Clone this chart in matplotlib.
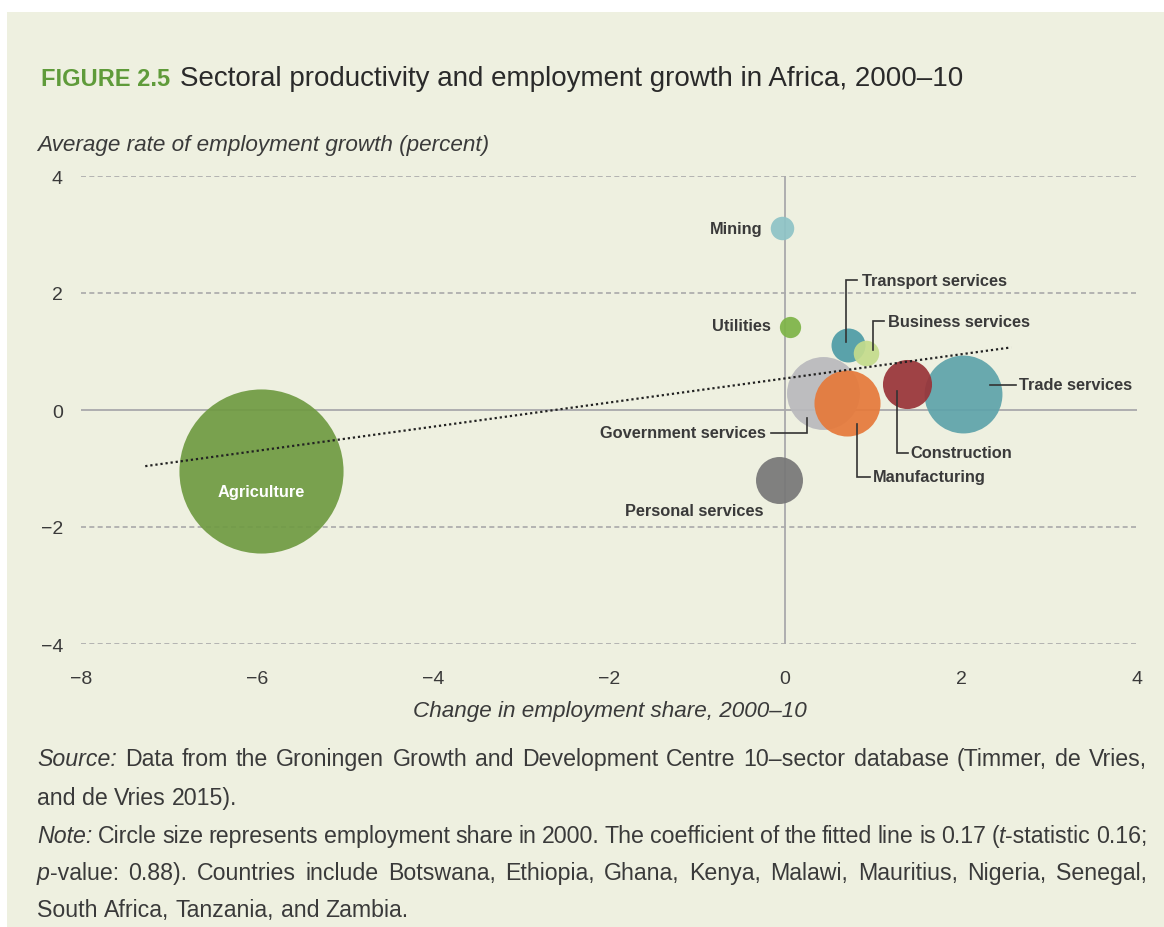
import matplotlib.pyplot as plt
from matplotlib.patches import Rectangle

plt.rcParams['font.family'] = ['Liberation Sans', 'DejaVu Sans']

# data
sectors = ['Agriculture', 'Mining', 'Utilities', 'Personal services', 'Government services',
           'Transport services', 'Business services', 'Trade services', 'Construction',
           'Manufacturing']
share_change = [-5.95, -0.03, 0.06, -0.07, 0.43, 0.72, 0.92, 2.02, 1.39, 0.70]
emp_growth = [-1.04, 3.11, 1.42, -1.20, 0.29, 1.11, 0.98, 0.27, 0.45, 0.12]
emp_share_2000 = [53.7, 1.1, 0.9, 4.4, 10.6, 2.3, 1.3, 12.1, 4.8, 8.7]
colors = ['#6f9a42', '#8ec3c6', '#7db447', '#777777', '#b9b9bd',
          '#4d9ca6', '#c4dc8c', '#5ea3aa', '#993338', '#e6793a']
fit_x = [-7.27, 2.57]
fit_y = [-0.96, 1.07]
xticks = [-8, -6, -4, -2, 0, 2, 4]
yticks = [-4, -2, 0, 2, 4]

# label placement: (x, y, ha) and leader line path
labels = {
    'Mining': (-0.26, 3.11, 'right', None),
    'Utilities': (-0.16, 1.44, 'right', None),
    'Personal services': (-0.24, -1.71, 'right', None),
    'Government services': (-0.22, -0.39, 'right', [(0.25, -0.14), (0.25, -0.39), (-0.16, -0.39)]),
    'Transport services': (0.875, 2.22, 'left', [(0.69, 1.16), (0.69, 2.22), (0.82, 2.22)]),
    'Business services': (1.17, 1.52, 'left', [(0.995, 1.02), (0.995, 1.52), (1.13, 1.52)]),
    'Trade services': (2.66, 0.43, 'left', [(2.33, 0.43), (2.62, 0.43)]),
    'Construction': (1.43, -0.735, 'left', [(1.27, 0.33), (1.27, -0.735), (1.40, -0.735)]),
    'Manufacturing': (1.0, -1.145, 'left', [(0.82, -0.24), (0.82, -1.145), (0.97, -1.145)]),
}

W, H = 1164, 928
fig = plt.figure(figsize=(W / 100, H / 100), dpi=100, facecolor='white')
fig.patches.append(Rectangle((7 / W, 0), 1, 1 - 13 / H, transform=fig.transFigure,
                             facecolor='#eef0e0', edgecolor='none', zorder=-10))

ax = fig.add_axes([81 / W, 1 - 645 / H, 1056 / W, 468 / H])
ax.set_zorder(1)
ax.set_facecolor('none')
ax.set_xlim(-8, 4)
ax.set_ylim(-4, 4)
for s in ax.spines.values():
    s.set_visible(False)

for y in yticks:
    if y != 0:
        ax.axhline(y, color='#a9a9a9', lw=1.2, ls=(0, (3, 2)), zorder=1)
ax.axhline(0, color='#a9a9ab', lw=1.3, zorder=1)
ax.axvline(0, color='#a9a9ab', lw=1.3, zorder=1)

ax.set_xticks(xticks)
ax.set_yticks(yticks)
ax.set_xticklabels([str(v).replace('-', '\u2212') for v in xticks])
ax.set_yticklabels([str(v).replace('-', '\u2212') for v in yticks])
ax.tick_params(axis='both', length=0, labelsize=14, labelcolor='#3a3a3a')
ax.tick_params(axis='x', pad=19)
ax.tick_params(axis='y', pad=13)

sizes = [v * 260 for v in emp_share_2000]
for i in range(len(sectors)):
    ax.scatter(share_change[i], emp_growth[i], s=sizes[i], color=colors[i],
               alpha=0.92, linewidths=0, zorder=3, clip_on=False)

ax.plot(fit_x, fit_y, color='#222222', lw=1.6, ls=(0, (1, 1.3)), zorder=5)

for name, (lx, ly, ha, path) in labels.items():
    ax.text(lx, ly, name, ha=ha, va='center', fontsize=11.8, fontweight='bold',
            color='#3a3a3a', zorder=6)
    if path:
        ax.plot([p[0] for p in path], [p[1] for p in path], color='#333333', lw=1.2,
                zorder=6, solid_joinstyle='miter')

ax.text(share_change[0], emp_growth[0] - 0.36, 'Agriculture', ha='center', va='center',
        fontsize=11.8, fontweight='bold', color='white', zorder=6)

# title and axis titles
fig.text(41 / W, 1 - 79 / H, 'FIGURE 2.5', fontsize=17, fontweight='bold', color='#5f9b3a',
         va='center')
fig.text(180 / W, 1 - 79 / H, 'Sectoral productivity and employment growth in Africa, 2000\u201310',
         fontsize=20, color='#2a2a2a', va='center')
fig.text(37 / W, 1 - 145 / H, 'Average rate of employment growth (percent)', fontsize=16.2,
         style='italic', color='#3a3a3a', va='center')
fig.text(610 / W, 1 - 712 / H, 'Change in employment share, 2000\u201310', fontsize=16.2,
         style='italic', color='#3a3a3a', va='center', ha='center')

# source / note with mixed italic runs, justified like the original
note_lines = [
    [('Source:', 'italic'), (' Data from the Groningen Growth and Development Centre 10\u2013sector database (Timmer, de Vries,', 'normal')],
    [('and de Vries 2015).', 'normal')],
    [('Note:', 'italic'), (' Circle size represents employment share in 2000. The coefficient of the fitted line is 0.17 (', 'normal'),
     ('t', 'italic'), ('-statistic 0.16;', 'normal')],
    [('p', 'italic'), ('-value: 0.88). Countries include Botswana, Ethiopia, Ghana, Kenya, Malawi, Mauritius, Nigeria, Senegal,', 'normal')],
    [('South Africa, Tanzania, and Zambia.', 'normal')],
]
justify = [True, False, True, True, False]
line_y = [760, 799, 837, 874, 911]
left, right = 37, 1147
fs = 16.7
renderer = fig.canvas.get_renderer()


def text_w(t):
    return t.get_window_extent(renderer).width


probe1 = fig.text(0, 0, 'x x', fontsize=fs)
probe2 = fig.text(0, 0, 'xx', fontsize=fs)
space_w = text_w(probe1) - text_w(probe2)
probe1.remove()
probe2.remove()

for runs, yp, just in zip(note_lines, line_y, justify):
    words = [[]]
    for txt, st in runs:
        for j, piece in enumerate(txt.split(' ')):
            if j > 0:
                words.append([])
            if piece:
                words[-1].append((piece, st))
    words = [w for w in words if w]
    placed = []
    for w in words:
        frags = []
        for piece, st in w:
            t = fig.text(0, 1 - (yp + 6.5) / H, piece, fontsize=fs, style=st,
                         color='#3a3a3a', va='baseline')
            frags.append((t, text_w(t)))
        placed.append(frags)
    total = sum(fw for frags in placed for _, fw in frags)
    gap = (right - left - total) / (len(placed) - 1) if just else space_w
    xp = left
    for frags in placed:
        for t, fw in frags:
            t.set_x(xp / W)
            xp += fw
        xp += gap

fig.savefig('out.png', dpi=100, facecolor='white')
